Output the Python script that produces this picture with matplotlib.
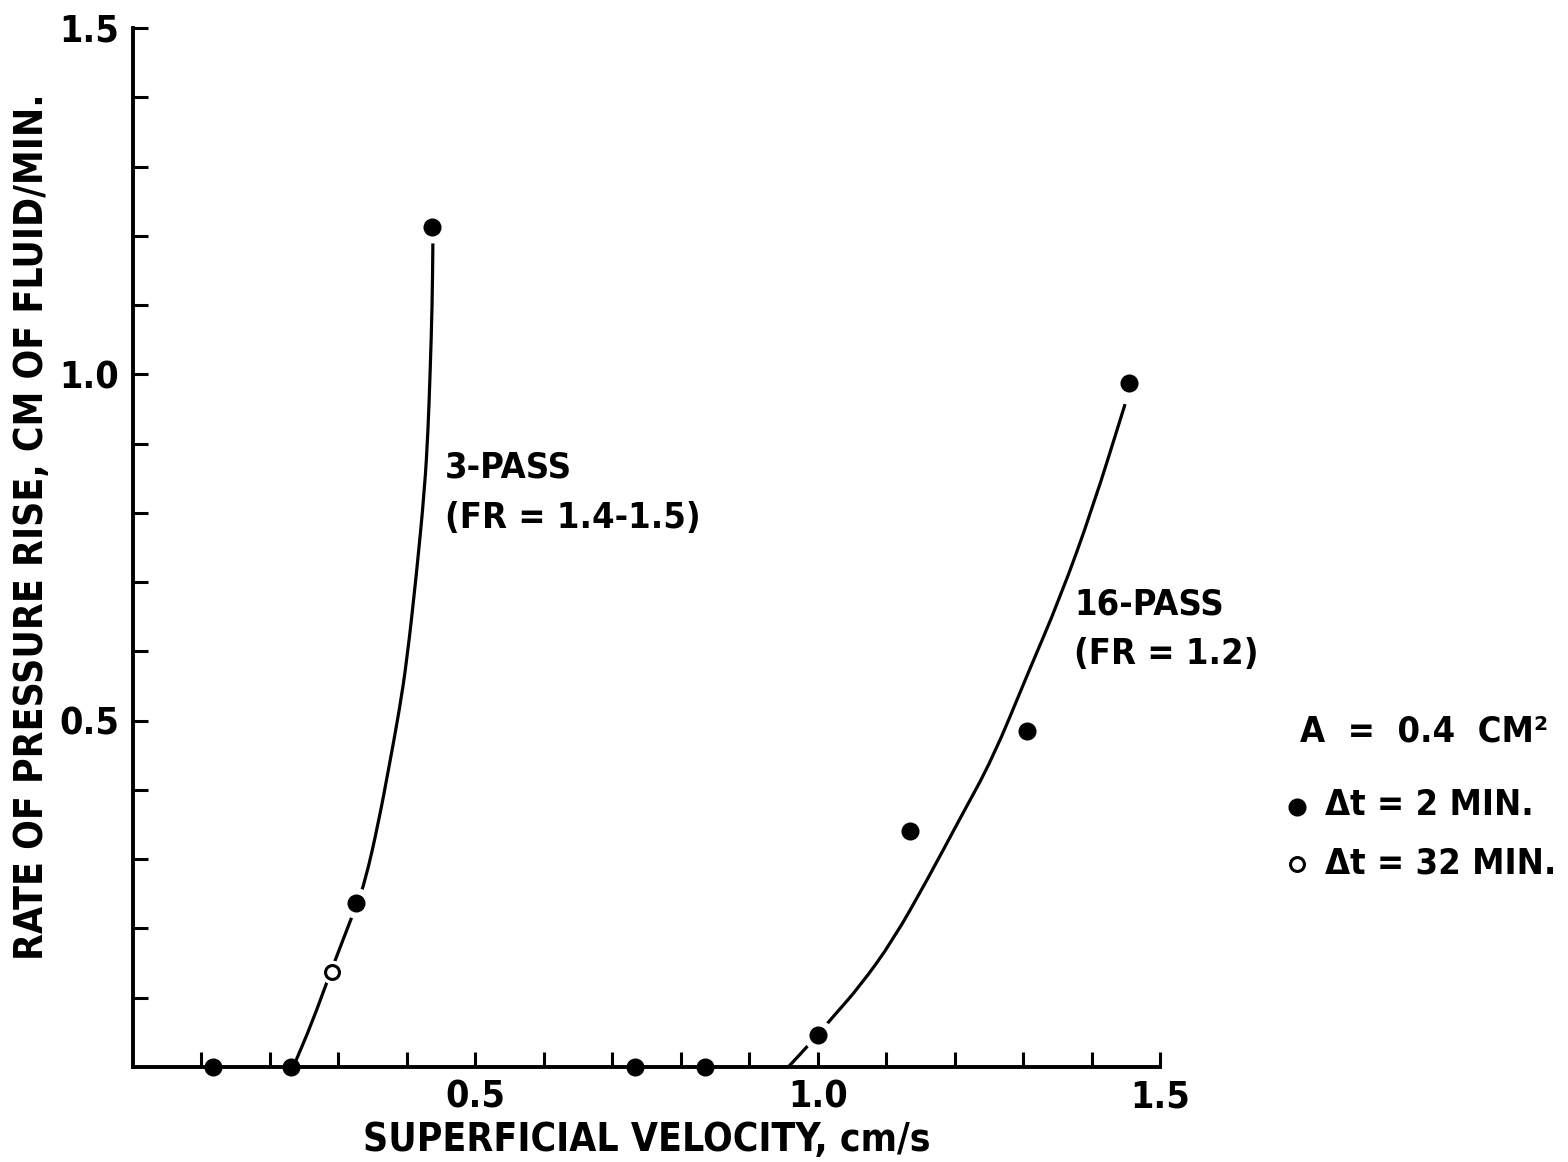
import numpy as np
import matplotlib
matplotlib.use('Agg')
from matplotlib import pyplot as plt
from matplotlib.path import Path
from matplotlib.patches import PathPatch

plt.rcParams['font.family'] = ['DejaVu Sans']
plt.rcParams['font.stretch'] = 'condensed'
plt.rcParams['font.weight'] = 'bold'
plt.rcParams['axes.labelweight'] = 'bold'

# measured points, 3-pass run
v3 = [0.117, 0.231, 0.326, 0.437]
r3 = [0.0, 0.0, 0.237, 1.212]
v3_open = [0.290]
r3_open = [0.137]
# hand-drawn fit curve, 3-pass
c3_v = [0.234, 0.262, 0.288, 0.327, 0.339, 0.358, 0.375, 0.389, 0.400, 0.414, 0.426, 0.431, 0.434, 0.437, 0.438]
c3_r = [0.0, 0.065, 0.136, 0.235, 0.268, 0.350, 0.439, 0.515, 0.587, 0.711, 0.835, 0.920, 1.003, 1.100, 1.189]

# measured points, 16-pass run
v16 = [0.733, 0.835, 1.000, 1.135, 1.306, 1.455]
r16 = [0.0, 0.0, 0.046, 0.340, 0.485, 0.988]
# hand-drawn fit curve, 16-pass
c16_v = [0.957, 0.990, 1.022, 1.062, 1.110, 1.160, 1.208, 1.256, 1.306, 1.354, 1.402, 1.449]
c16_r = [0.0, 0.035, 0.072, 0.117, 0.183, 0.270, 0.359, 0.446, 0.566, 0.677, 0.808, 0.957]

xticks = [0.1 * i for i in range(1, 16)]
xlabels = ['0.5' if i == 5 else '1.0' if i == 10 else '1.5' if i == 15 else '' for i in range(1, 16)]
yticks = [0.1 * i for i in range(1, 16)]
ylabels = ['0.5' if i == 5 else '1.0' if i == 10 else '1.5' if i == 15 else '' for i in range(1, 16)]


def smooth_curve(xs, ys):
    # quadratic bezier through the midpoints, traced points act as control points
    pts = list(zip(xs, ys))
    verts = [pts[0]]
    codes = [Path.MOVETO]
    mid = lambda a, b: ((a[0] + b[0]) / 2, (a[1] + b[1]) / 2)
    verts.append(mid(pts[0], pts[1]))
    codes.append(Path.LINETO)
    for i in range(1, len(pts) - 1):
        verts += [pts[i], mid(pts[i], pts[i + 1])]
        codes += [Path.CURVE3, Path.CURVE3]
    verts.append(pts[-1])
    codes.append(Path.LINETO)
    return Path(verts, codes)


fig = plt.figure(figsize=(15.68, 11.62), dpi=100)
ax = fig.add_axes([133 / 1568, 1 - 1067 / 1162, (1160 - 133) / 1568, (1067 - 28) / 1162])

lw = 2.3
for cv, cr in ((c3_v, c3_r), (c16_v, c16_r)):
    ax.add_patch(PathPatch(smooth_curve(cv, cr), fc='none', ec='black', lw=lw,
                           capstyle='butt', zorder=2))

# points off the axis get a white halo so the curve breaks around them
allv = v3 + v16
allr = r3 + r16
off_v = [v for v, r in zip(allv, allr) if r > 0]
off_r = [r for v, r in zip(allv, allr) if r > 0]
ax.plot(off_v, off_r, 'o', ms=22, color='white', mew=0, zorder=3)
ax.plot(allv, allr, 'o', ms=13, color='black', mew=0, zorder=4, clip_on=False)
ax.plot(v3_open, r3_open, 'o', ms=17, color='white', mew=0, zorder=3)
ax.plot(v3_open, r3_open, 'o', ms=10, mfc='white', mec='black', mew=2.2, zorder=4)

ax.set_xlim(0, 1.5)
ax.set_ylim(0, 1.5)
for s in ('top', 'right'):
    ax.spines[s].set_visible(False)
for s in ('left', 'bottom'):
    ax.spines[s].set_linewidth(2.8)
ax.set_xticks(xticks)
ax.set_xticklabels(xlabels)
ax.set_yticks(yticks)
ax.set_yticklabels(ylabels)
ax.tick_params(direction='in', length=11, width=2.2, labelsize=27, pad=9)
ax.tick_params(axis='y', pad=10)

ax.set_xlabel('SUPERFICIAL VELOCITY, cm/s', fontsize=28, labelpad=4)
ax.set_ylabel('RATE OF PRESSURE RISE, CM OF FLUID/MIN.', fontsize=28)
ax.yaxis.set_label_coords(-0.08, 0.52)

ax.text(0.455, 0.865, '3-PASS', fontsize=26, va='center')
ax.text(0.455, 0.793, '(FR = 1.4-1.5)', fontsize=26, va='center')
ax.text(1.375, 0.668, '16-PASS', fontsize=26, va='center')
ax.text(1.375, 0.596, '(FR = 1.2)', fontsize=26, va='center')

fig.text(1300 / 1568, 1 - 731 / 1162, 'A  =  0.4  CM\u00b2', fontsize=26, va='center')
fig.text(1325 / 1568, 1 - 805 / 1162, '\u0394t = 2 MIN.', fontsize=26, va='center')
fig.text(1325 / 1568, 1 - 863 / 1162, '\u0394t = 32 MIN.', fontsize=26, va='center')
fig.lines.append(plt.Line2D([1297 / 1568], [1 - 807 / 1162], marker='o', ms=12, color='black',
                            transform=fig.transFigure))
fig.lines.append(plt.Line2D([1297 / 1568], [1 - 864 / 1162], marker='o', ms=10, mfc='white',
                            mec='black', mew=2.2, transform=fig.transFigure))

fig.savefig('out.png', dpi=100)
